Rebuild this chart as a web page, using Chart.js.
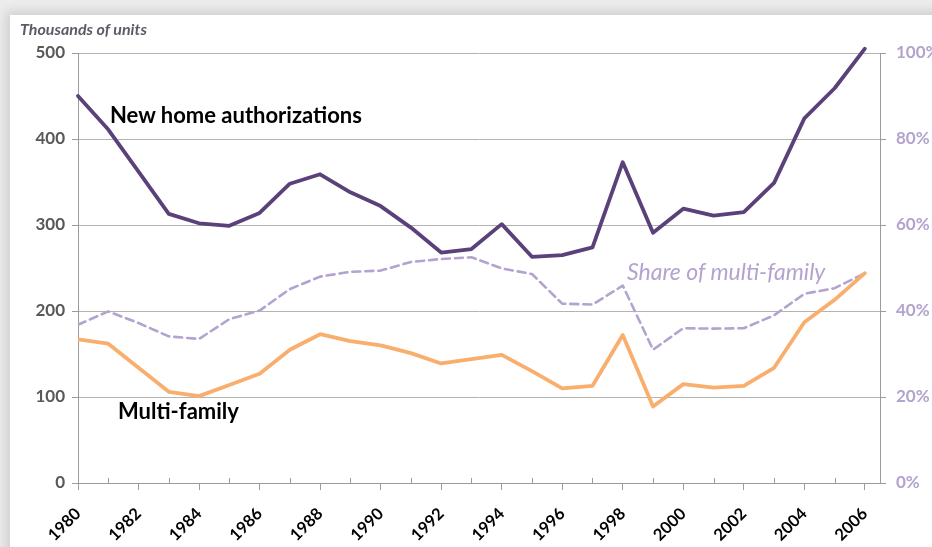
<!DOCTYPE html>
<html>
<head>
<meta charset="utf-8">
<script src="https://cdn.jsdelivr.net/npm/chart.js@4.4.0/dist/chart.umd.min.js"></script>
<style>
  html, body { margin: 0; padding: 0; background: #ececec; }
  body { width: 932px; height: 547px; position: relative; overflow: hidden; }
  #card {
    position: absolute; left: 10px; top: 15px; width: 940px; height: 560px;
    background: #fff; box-shadow: 0 0 10px 4px rgba(0,0,0,0.12);
  }
  #wrap { position: absolute; left: 0; top: 0; width: 932px; height: 547px; }
  .note { position: absolute; white-space: nowrap; line-height: 1; font-family: Lato, "Open Sans", sans-serif; }
  #units { left: 20px; top: 21px; font-size: 16px; font-weight: bold; font-style: italic; color: #5f5a66; }
  #lblNew { left: 110px; top: 104px; font-size: 22px; font-weight: bold; color: #000; }
  #lblMulti { left: 118px; top: 400px; font-size: 22px; font-weight: bold; color: #000; }
  #lblShare { left: 627px; top: 260px; font-size: 23px; font-style: italic; color: #b3a3cf; }
</style>
</head>
<body>
<div id="card"></div>
<div id="wrap"><canvas id="chart" width="932" height="547"></canvas></div>
<div class="note" id="units">Thousands of units</div>
<div class="note" id="lblNew">New home authorizations</div>
<div class="note" id="lblMulti">Multi-family</div>
<div class="note" id="lblShare">Share of multi-family</div>

<script>
// Values
const years = [1980, 1981, 1982, 1983, 1984, 1985, 1986, 1987, 1988, 1989, 1990, 1991, 1992, 1993,
  1994, 1995, 1996, 1997, 1998, 1999, 2000, 2001, 2002, 2003, 2004, 2005, 2006];
const newHomes = [450, 411, 362, 313, 302, 299, 314, 348, 359, 338, 322, 297, 268, 272,
  301, 263, 265, 274, 373, 291, 319, 311, 315, 349, 424, 459, 505];
const multiFamily = [167, 162, 134, 106, 101, 114, 127, 155, 173, 165, 160, 151, 139, 144,
  149, 130, 110, 113, 172, 89, 115, 111, 113, 134, 187, 213, 244];
const shareMulti = [36.8, 39.9, 37.2, 34.1, 33.5, 38.1, 40.1, 45.1, 48.0, 49.1, 49.4, 51.4, 52.1, 52.5,
  49.9, 48.6, 41.7, 41.5, 45.9, 31.0, 36.0, 35.9, 36.0, 39.0, 44.0, 45.3, 48.8];
const leftTicks = [0, 100, 200, 300, 400, 500];
const rightTicks = [0, 20, 40, 60, 80, 100];

const COLORS = {
  purple: '#5b4179',
  orange: '#f9ae6e',
  lavender: '#b3a3cf',
  grid: '#b3b3b3',
  axis: '#9b9b9b',
  label: '#595959'
};

function points(values) {
  return years.map((y, i) => ({ x: y, y: values[i] }));
}

// small tick marks above the x axis for odd years
const minorTicks = {
  id: 'minorTicks',
  afterDraw(chart) {
    const x = chart.scales.x;
    const ctx = chart.ctx;
    const base = chart.chartArea.bottom;
    ctx.save();
    ctx.strokeStyle = COLORS.axis;
    ctx.lineWidth = 1;
    years.forEach(y => {
      if (y % 2 === 1) {
        const px = Math.round(x.getPixelForValue(y)) + 0.5;
        ctx.beginPath();
        ctx.moveTo(px, base - 5);
        ctx.lineTo(px, base);
        ctx.stroke();
      }
    });
    ctx.restore();
  }
};

const ctx = document.getElementById('chart');
new Chart(ctx, {
  type: 'line',
  data: {
    datasets: [
      {
        label: 'New home authorizations',
        data: points(newHomes),
        borderColor: COLORS.purple,
        borderWidth: 3.8,
        yAxisID: 'y',
        clip: false
      },
      {
        label: 'Multi-family',
        data: points(multiFamily),
        borderColor: COLORS.orange,
        borderWidth: 3.8,
        yAxisID: 'y'
      },
      {
        label: 'Share of multi-family',
        data: points(shareMulti),
        borderColor: COLORS.lavender,
        borderWidth: 2.6,
        borderDash: [8, 5],
        yAxisID: 'y2'
      }
    ]
  },
  options: {
    responsive: false,
    animation: false,
    layout: { padding: { top: 53, left: 0, right: 0, bottom: 0 } },
    elements: { point: { radius: 0 }, line: { tension: 0, borderCapStyle: 'round', borderJoinStyle: 'round' } },
    plugins: { legend: { display: false }, tooltip: { enabled: false } },
    scales: {
      x: {
        type: 'linear',
        min: 1980,
        max: 2006.5,
        afterBuildTicks(scale) { scale.ticks = years.filter(y => y % 2 === 0).map(v => ({ value: v })); },
        afterFit(scale) { scale.height = 64; },
        ticks: {
          autoSkip: false,
          minRotation: 45,
          maxRotation: 45,
          padding: 14,
          color: '#000',
          font: { family: 'Lato', size: 16.5, weight: 'bold' },
          callback: v => String(v)
        },
        grid: { drawOnChartArea: false, tickLength: 7, tickColor: COLORS.axis },
        border: { color: COLORS.axis }
      },
      y: {
        position: 'left',
        min: 0,
        max: 500,
        afterBuildTicks(scale) { scale.ticks = leftTicks.map(v => ({ value: v })); },
        afterFit(scale) { scale.width = 78; },
        ticks: {
          padding: 7,
          color: COLORS.label,
          font: { family: 'Lato', size: 17, weight: 'bold' }
        },
        grid: { color: COLORS.grid, tickLength: 6, tickColor: COLORS.axis },
        border: { color: COLORS.axis }
      },
      y2: {
        position: 'right',
        min: 0,
        max: 100,
        afterBuildTicks(scale) { scale.ticks = rightTicks.map(v => ({ value: v })); },
        afterFit(scale) { scale.width = 52; },
        ticks: {
          padding: 10,
          color: COLORS.lavender,
          font: { family: 'Lato', size: 17, weight: 'bold' },
          callback: v => v + '%'
        },
        grid: { drawOnChartArea: false, tickLength: 6, tickColor: COLORS.axis },
        border: { color: COLORS.axis }
      }
    }
  },
  plugins: [minorTicks]
});
</script>
</body>
</html>
